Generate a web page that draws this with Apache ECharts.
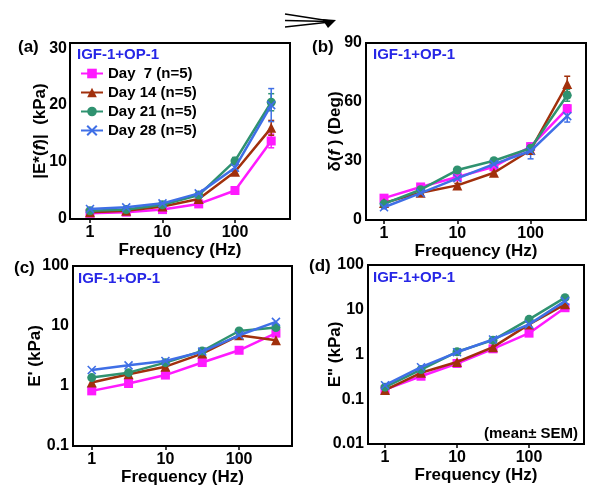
<!DOCTYPE html>
<html>
<head>
<meta charset="utf-8">
<script src="https://cdn.jsdelivr.net/npm/echarts@6/dist/echarts.min.js"></script>
<style>
  html, body { margin: 0; padding: 0; background: #fff; }
  #main { width: 600px; height: 494px; }
</style>
</head>
<body>
<div id="main"></div>
<script>
// frequencies (Hz)
const freq = [1, 3.16, 10, 31.6, 100, 316]
const dayNames = ['Day  7 (n=5)', 'Day 14 (n=5)', 'Day 21 (n=5)', 'Day 28 (n=5)']
const dayColors = ['#ff1aff', '#a1300c', '#2f9270', '#3f6fe6']

// (a) |E*(f)| in kPa, rows = day 7, 14, 21, 28
const modA = [
  [1.0, 1.2, 1.65, 2.65, 5.0, 13.7],
  [1.2, 1.45, 2.2, 3.5, 8.3, 16.0],
  [1.45, 1.65, 2.5, 4.2, 10.2, 20.5],
  [1.75, 2.05, 2.75, 4.5, 9.0, 20.0]
]
const semA = [
  [0.1, 0.1, 0.15, 0.2, 0.4, 1.2],
  [0.1, 0.1, 0.15, 0.25, 0.5, 1.3],
  [0.1, 0.1, 0.2, 0.3, 0.6, 1.5],
  [0.1, 0.1, 0.2, 0.3, 0.6, 2.9]
]
// (b) phase lag in degrees
const phaseB = [
  [11.1, 16.8, 21.9, 27.1, 37.3, 56.6],
  [8.7, 13.9, 17.6, 24.0, 35.6, 69.1],
  [8.2, 15.4, 25.4, 30.1, 36.5, 63.4],
  [6.5, 13.7, 21.2, 28.4, 35.1, 52.8]
]
const semB = [
  [0.8, 0.8, 1, 1, 1.5, 2],
  [0.8, 0.8, 1, 1, 1.5, 4],
  [0.8, 0.8, 1, 1, 1.5, 3],
  [0.8, 0.8, 1, 1, 4, 3]
]
// (c) storage modulus E' in kPa
const storC = [
  [0.83, 1.1, 1.52, 2.46, 3.94, 7.6],
  [1.14, 1.57, 2.1, 3.47, 7.0, 5.8],
  [1.38, 1.67, 2.45, 3.83, 8.25, 9.4],
  [1.85, 2.21, 2.61, 3.74, 7.0, 11.7]
]
// (d) loss modulus E'' in kPa
const lossD = [
  [0.164, 0.327, 0.63, 1.34, 3.0, 11.1],
  [0.16, 0.39, 0.68, 1.46, 4.7, 13.2],
  [0.186, 0.46, 1.15, 2.09, 6.1, 18.6],
  [0.206, 0.52, 1.12, 2.17, 4.7, 15.6]
]

const xSymbol = 'path://M0,0L10,10M10,0L0,10'
const daySymbols = ['rect', 'triangle', 'circle', xSymbol]
const daySizes = [9, 10, 9, 8]

const font = 'Liberation Sans, Arial, sans-serif'
const chart = echarts.init(document.getElementById('main'))

const grids = [
  { left: 70, top: 43, width: 220, height: 176 },
  { left: 366, top: 43, width: 220, height: 177 },
  { left: 73, top: 266, width: 219, height: 180 },
  { left: 368, top: 265, width: 216, height: 179 }
]
const xRanges = [[0.53, 574], [0.568, 570], [0.557, 522], [0.58, 580]]

const labelStyle = { color: '#000', fontFamily: font, fontWeight: 'bold', fontSize: 16 }
const nameStyle = {
  color: '#000', fontFamily: font, fontWeight: 'bold', fontSize: 17,
  rich: {
    n: { color: '#000', fontFamily: font, fontWeight: 'bold', fontSize: 17 },
    i: { color: '#000', fontFamily: font, fontWeight: 'bold', fontStyle: 'italic', fontSize: 17 }
  }
}

const xAxes = grids.map((g, i) => ({
  type: 'log', logBase: 10, gridIndex: i,
  min: xRanges[i][0], max: xRanges[i][1],
  name: 'Frequency (Hz)', nameLocation: 'middle', nameGap: 22,
  nameTextStyle: nameStyle,
  axisLine: { lineStyle: { color: '#000', width: 2 } },
  axisTick: { show: true, inside: false, length: 4, lineStyle: { color: '#000', width: 1.5 }, customValues: [1, 10, 100] },
  axisLabel: { ...labelStyle, margin: 6, customValues: [1, 10, 100] },
  splitLine: { show: false }, minorTick: { show: false }
}))

const yAxes = [
  {
    type: 'value', gridIndex: 0, min: 0, max: 30.9,
    name: '{n||E*(}{i|f}{n|)|  (kPa)}',
    axisLabel: { ...labelStyle, margin: 3, customValues: [0, 10, 20, 30] },
    axisTick: { show: false }, nameGap: 21
  },
  {
    type: 'value', gridIndex: 1, min: 0, max: 90, interval: 30,
    name: '{n|δ(}{i|f}{n| ) (Deg)}',
    axisLabel: { ...labelStyle, margin: 4 },
    axisTick: { show: false }, nameGap: 22
  },
  {
    type: 'log', logBase: 10, gridIndex: 2, min: 0.1, max: 100,
    name: "{n|E' (kPa)}",
    axisLabel: { ...labelStyle, margin: 4 },
    axisTick: { show: false }, nameGap: 29
  },
  {
    type: 'log', logBase: 10, gridIndex: 3, min: 0.01, max: 100,
    name: '{n|E" (kPa)}',
    axisLabel: { ...labelStyle, margin: 4 },
    axisTick: { show: false }, nameGap: 24
  }
].map(a => ({
  ...a,
  nameLocation: 'middle',
  nameMoveOverlap: false,
  nameTextStyle: nameStyle,
  axisLine: { show: true, lineStyle: { color: '#000', width: 2 } },
  splitLine: { show: false }, minorTick: { show: false }
}))

const panelData = [modA, phaseB, storC, lossD]
const series = []
panelData.forEach((rows, p) => {
  rows.forEach((vals, d) => {
    series.push({
      type: 'line', name: dayNames[d], xAxisIndex: p, yAxisIndex: p,
      data: freq.map((f, k) => [f, vals[k]]),
      symbol: daySymbols[d], symbolSize: daySizes[d],
      showSymbol: true,
      lineStyle: { color: dayColors[d], width: 2.5 },
      itemStyle: d === 3
        ? { color: dayColors[d], borderColor: dayColors[d], borderWidth: 1.6 }
        : { color: dayColors[d] },
      z: 3 + d
    })
  })
})

// error bars for (a) and (b)
function errBars(p, rows, sems) {
  rows.forEach((vals, d) => {
    series.push({
      type: 'custom', xAxisIndex: p, yAxisIndex: p, silent: true, z: 2,
      data: freq.map((f, k) => [f, vals[k], sems[d][k]]),
      renderItem: (params, api) => {
        const x = api.value(0), y = api.value(1), e = api.value(2)
        const hi = api.coord([x, y + e]), lo = api.coord([x, y - e])
        const style = { stroke: dayColors[d], lineWidth: 1.5 }
        return {
          type: 'group',
          children: [
            { type: 'line', shape: { x1: hi[0], y1: hi[1], x2: lo[0], y2: lo[1] }, style },
            { type: 'line', shape: { x1: hi[0] - 3, y1: hi[1], x2: hi[0] + 3, y2: hi[1] }, style },
            { type: 'line', shape: { x1: lo[0] - 3, y1: lo[1], x2: lo[0] + 3, y2: lo[1] }, style }
          ]
        }
      }
    })
  })
}
errBars(0, modA, semA)
errBars(1, phaseB, semB)

const txt = (x, y, text, opt) => ({
  type: 'text', x, y,
  style: { text, fill: '#000', font: 'bold 16px ' + font, ...opt }
})
const igf = (x, y) => txt(x, y, 'IGF-1+OP-1', { fill: '#2626e6', font: 'bold 15px ' + font, verticalAlign: 'middle' })

chart.setOption({
  animation: false,
  backgroundColor: '#fff',
  grid: grids.map(g => ({ ...g, show: true, borderColor: '#000', borderWidth: 2, containLabel: false })),
  xAxis: xAxes,
  yAxis: yAxes,
  legend: {
    data: dayNames, orient: 'vertical', left: 75, top: 61,
    itemWidth: 22, itemHeight: 12, itemGap: 4,
    textStyle: { color: '#000', fontFamily: font, fontWeight: 'bold', fontSize: 15 },
    selectedMode: false
  },
  graphic: [
    txt(18, 47, '(a)', { verticalAlign: 'middle', font: 'bold 17px ' + font }),
    txt(312, 47, '(b)', { verticalAlign: 'middle', font: 'bold 17px ' + font }),
    txt(14, 268, '(c)', { verticalAlign: 'middle', font: 'bold 17px ' + font }),
    txt(309, 266, '(d)', { verticalAlign: 'middle', font: 'bold 17px ' + font }),
    igf(77, 55), igf(373, 55), igf(78, 279), igf(373, 278),
    txt(531, 434, '(mean\u00b1 SEM)', { align: 'center', verticalAlign: 'middle', font: 'bold 15px ' + font }),
    { type: 'line', shape: { x1: 285, y1: 14, x2: 330, y2: 21 }, style: { stroke: '#000', lineWidth: 1.5 } },
    { type: 'line', shape: { x1: 285, y1: 20.5, x2: 330, y2: 21.5 }, style: { stroke: '#000', lineWidth: 1.5 } },
    { type: 'line', shape: { x1: 285, y1: 27, x2: 330, y2: 22 }, style: { stroke: '#000', lineWidth: 1.5 } },
    { type: 'polygon', shape: { points: [[322, 19], [336, 20], [328, 28]] }, style: { fill: '#000' } }
  ],
  series
})
</script>
</body>
</html>
